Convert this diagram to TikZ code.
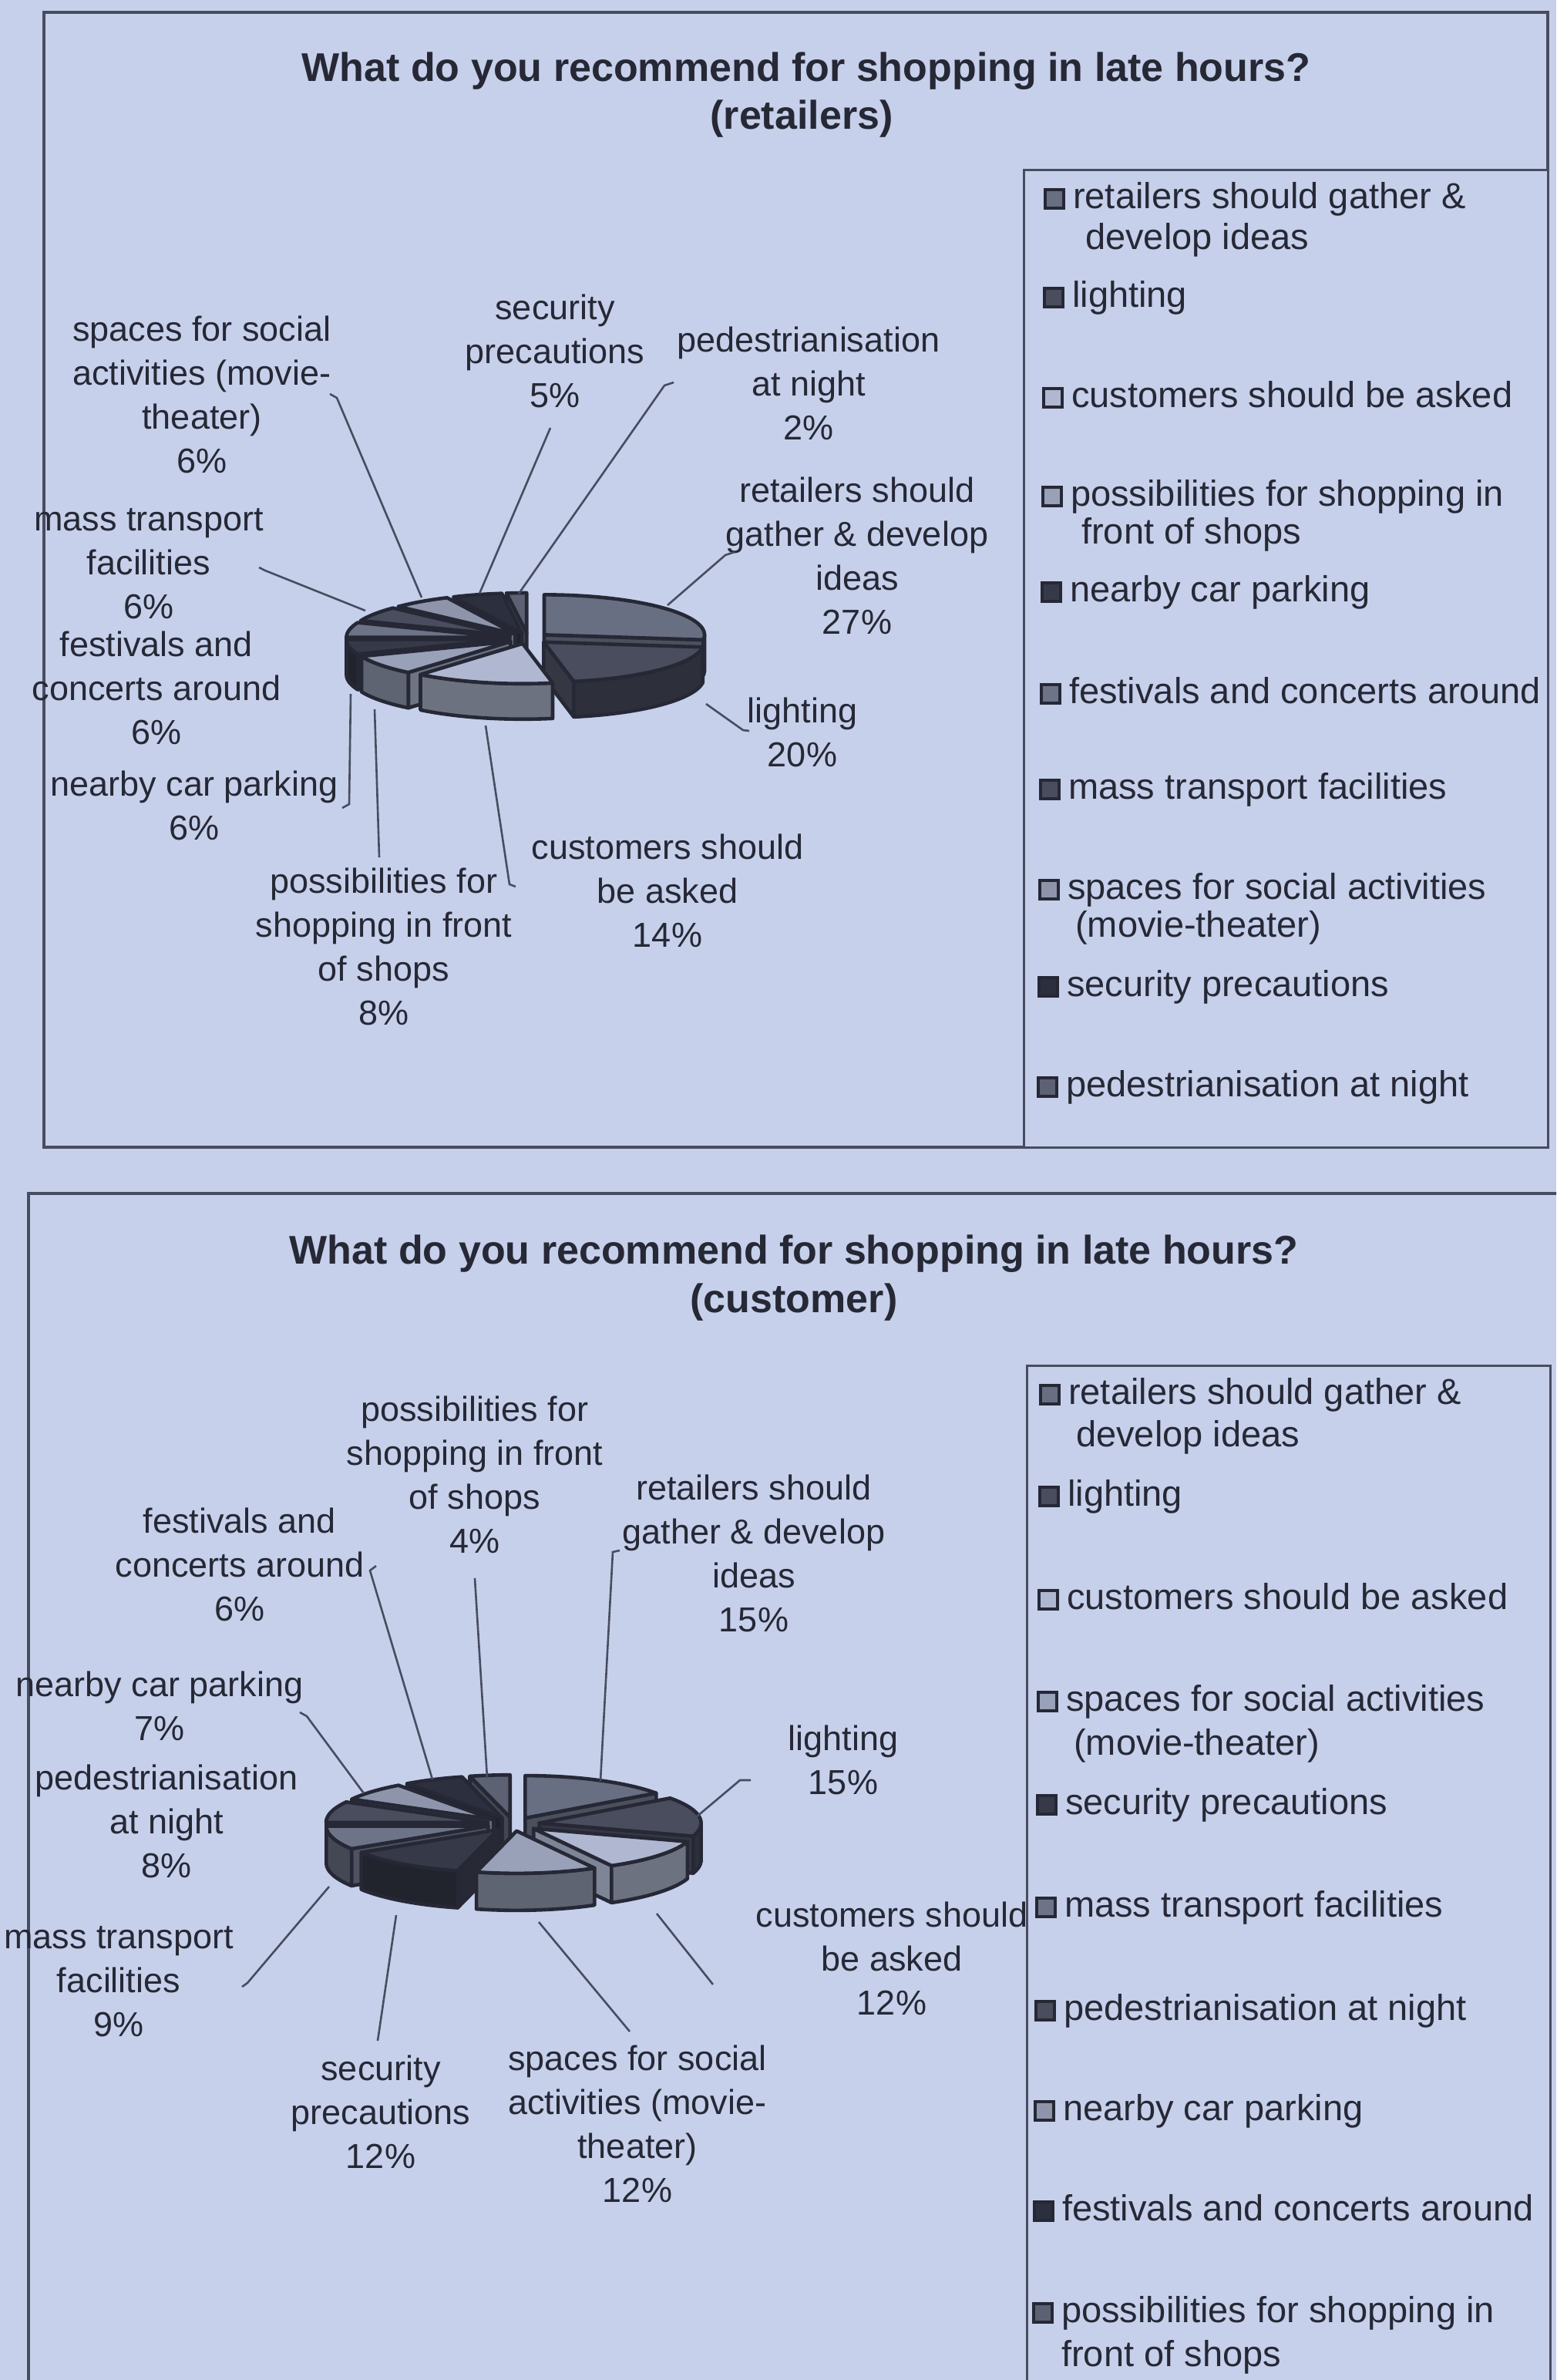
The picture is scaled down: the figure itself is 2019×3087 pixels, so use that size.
\documentclass[tikz,border=0pt]{standalone}
\usepackage{fontspec}
\setmainfont{Liberation Sans}
\definecolor{paper}{RGB}{198,208,234}
\definecolor{ink}{RGB}{38,40,54}
\definecolor{frame}{RGB}{72,76,96}
\colorlet{pc1}{ink!58!paper}
\colorlet{pc2}{ink!78!paper}
\colorlet{pc3}{ink!14!paper}
\colorlet{pc4}{ink!28!paper}
\colorlet{pc5}{ink!90!paper}
\colorlet{pc6}{ink!55!paper}
\colorlet{pc7}{ink!78!paper}
\colorlet{pc8}{ink!35!paper}
\colorlet{pc9}{ink!96!paper}
\colorlet{pc10}{ink!66!paper}
\tikzset{
  pieline/.style={draw=ink, line width=4.6pt, line join=round},
  lbl/.style={font=\fontsize{45}{57}\selectfont, text=ink, align=center, inner sep=0pt},
  lgd/.style={font=\fontsize{47}{54}\selectfont, text=ink, anchor=base west, inner sep=0pt},
  ttl/.style={font=\bfseries\fontsize{52}{61}\selectfont, text=ink, inner sep=0pt},
  leader/.style={draw=frame, line width=2.6pt},
  panel/.style={draw=frame, line width=4.5pt},
  lbox/.style={draw=frame, line width=3pt, fill=paper},
  mk/.style={draw=ink, line width=3.5pt, minimum size=24pt, inner sep=0pt},
}
\newcommand\pieslice[3]{%
  \pgfmathsetmacro\psm{(#1+#2)/2}%
  \pgfmathsetmacro\psx{\pcx+\pe*cos(\psm)}%
  \pgfmathsetmacro\psy{\pcy-\pe*\pr/\pR*sin(\psm)}%
  \pgfmathtruncatemacro\psva{cos(#1)>0.001 ? 1 : 0}%
  \pgfmathtruncatemacro\psvb{cos(#2)<-0.001 ? 1 : 0}%
  \pgfmathsetmacro\pslo{max(#1,-180)}%
  \pgfmathsetmacro\pshi{min(#2,0)}%
  \pgfmathtruncatemacro\psvw{\pshi>\pslo ? 1 : 0}%
  \ifnum\psva=1
    \filldraw[pieline, fill=#3!72!black] ({\psx},{\psy}) -- ({\psx+\pR*cos(#1)},{\psy-\pr*sin(#1)}) -- ({\psx+\pR*cos(#1)},{\psy-\pr*sin(#1)+\ph}) -- ({\psx},{\psy+\ph}) -- cycle;
  \fi
  \ifnum\psvb=1
    \filldraw[pieline, fill=#3!72!black] ({\psx},{\psy}) -- ({\psx+\pR*cos(#2)},{\psy-\pr*sin(#2)}) -- ({\psx+\pR*cos(#2)},{\psy-\pr*sin(#2)+\ph}) -- ({\psx},{\psy+\ph}) -- cycle;
  \fi
  \ifnum\psvw=1
    \filldraw[pieline, fill=#3!62!black] plot[domain=\pslo:\pshi, samples=40] ({\psx+\pR*cos(\x)},{\psy-\pr*sin(\x)}) -- plot[domain=\pshi:\pslo, samples=40] ({\psx+\pR*cos(\x)},{\psy-\pr*sin(\x)+\ph}) -- cycle;
  \fi
  \filldraw[pieline, fill=#3] ({\psx},{\psy}) -- plot[domain=#1:#2, samples=40] ({\psx+\pR*cos(\x)},{\psy-\pr*sin(\x)}) -- cycle;
}
\begin{document}
\begin{tikzpicture}[x=1pt,y=-1pt]
\useasboundingbox (0,0) rectangle (2019,3087);
\fill[paper] (0,0) rectangle (2019,3087);
\clip (0,0) rectangle (2019,3087);

% ================= TOP PANEL =================
\draw[panel] (57,16) rectangle (2008,1488);
\node[ttl] (tt1) at (1046,92) {What do you recommend for shopping in late hours?};
\node[ttl] (tt2) at (1040,154) {(retailers)};

% pie (retailers)
\def\pcx{685}\def\pcy{828}\def\pR{208}\def\pr{52}\def\ph{46}\def\pe{28}
\pieslice{-270}{-262.8}{pc10}
\pieslice{-262.8}{-244.8}{pc9}
\pieslice{-244.8}{-223.2}{pc8}
\pieslice{-223.2}{-201.6}{pc7}
\pieslice{-7.2}{90}{pc1}
\pieslice{-201.6}{-180}{pc6}
\pieslice{-180}{-158.4}{pc5}
\pieslice{-158.4}{-129.6}{pc4}
\pieslice{-79.2}{-7.2}{pc2}
\pieslice{-129.6}{-79.2}{pc3}

% labels
\node[lbl] (ta) at (262,512) {spaces for social\\activities (movie-\\theater)\\6\%};
\node[lbl] (tb) at (720,455) {security\\precautions\\5\%};
\node[lbl] (tc) at (1049,497) {pedestrianisation\\at night\\2\%};
\node[lbl] (td) at (1112,721) {retailers should\\gather \& develop\\ideas\\27\%};
\node[lbl] (te) at (1041,950) {lighting\\20\%};
\node[lbl] (tf) at (866,1155) {customers should\\be asked\\14\%};
\node[lbl] (tg) at (498,1228) {possibilities for\\shopping in front\\of shops\\8\%};
\node[lbl] (th) at (252,1045) {nearby car parking\\6\%};
\node[lbl] (ti) at (203,892) {festivals and\\concerts around\\6\%};
\node[lbl] (tj) at (193,731) {mass transport\\facilities\\6\%};

% leader lines
\coordinate (a0) at (428,511); \coordinate (a1) at (437,516); \coordinate (a2) at (547,775);
\draw[leader] (a0) -- (a1) -- (a2);
\coordinate (b1) at (714,555); \coordinate (b2) at (622,770);
\draw[leader] (b1) -- (b2);
\coordinate (c0) at (874,496); \coordinate (c1) at (862,500); \coordinate (c2) at (673,770);
\draw[leader] (c0) -- (c1) -- (c2);
\coordinate (d0) at (953,716); \coordinate (d1) at (941,720); \coordinate (d2) at (866,785);
\draw[leader] (d0) -- (d1) -- (d2);
\coordinate (e0) at (972,948); \coordinate (e1) at (964,947); \coordinate (e2) at (916,913);
\draw[leader] (e0) -- (e1) -- (e2);
\coordinate (f0) at (669,1150); \coordinate (f1) at (661,1147); \coordinate (f2) at (630,941);
\draw[leader] (f0) -- (f1) -- (f2);
\coordinate (g1) at (492,1112); \coordinate (g2) at (486,920);
\draw[leader] (g1) -- (g2);
\coordinate (h0) at (444,1048); \coordinate (h1) at (453,1043); \coordinate (h2) at (455,900);
\draw[leader] (h0) -- (h1) -- (h2);
\coordinate (j0) at (336,736); \coordinate (j1) at (344,740); \coordinate (j2) at (474,792);
\draw[leader] (j0) -- (j1) -- (j2);

% legend
\draw[lbox] (1328,220) rectangle (2008,1488);
\node[mk, fill=pc1] (lm1) at (1368,258) {};
\node[lgd] (lt1) at (1392,270) {retailers should gather \&};
\node[lgd] (lt1b) at (1408,323) {develop ideas};
\node[mk, fill=pc2] (lm2) at (1367,386) {};
\node[lgd] (lt2) at (1391,398) {lighting};
\node[mk, fill=pc3] (lm3) at (1366,516) {};
\node[lgd] (lt3) at (1390,528) {customers should be asked};
\node[mk, fill=pc4] (lm4) at (1365,644) {};
\node[lgd] (lt4) at (1389,656) {possibilities for shopping in};
\node[lgd] (lt4b) at (1403,705) {front of shops};
\node[mk, fill=pc5] (lm5) at (1364,768) {};
\node[lgd] (lt5) at (1388,780) {nearby car parking};
\node[mk, fill=pc6] (lm6) at (1363,900) {};
\node[lgd] (lt6) at (1387,912) {festivals and concerts around};
\node[mk, fill=pc7] (lm7) at (1362,1024) {};
\node[lgd] (lt7) at (1386,1036) {mass transport facilities};
\node[mk, fill=pc8] (lm8) at (1361,1154) {};
\node[lgd] (lt8) at (1385,1166) {spaces for social activities};
\node[lgd] (lt8b) at (1395,1215) {(movie-theater)};
\node[mk, fill=pc9] (lm9) at (1360,1280) {};
\node[lgd] (lt9) at (1384,1292) {security precautions};
\node[mk, fill=pc10] (lm10) at (1359,1410) {};
\node[lgd] (lt10) at (1383,1422) {pedestrianisation at night};

% ================= BOTTOM PANEL =================
\draw[panel] (37,1548) rectangle (2060,3140);
\node[ttl] (bt1) at (1030,1626) {What do you recommend for shopping in late hours?};
\node[ttl] (bt2) at (1030,1689) {(customer)};

% pie (customer)
\def\pcx{666}\def\pcy{2366}\def\pR{210}\def\pr{55}\def\ph{48}\def\pe{34}
\pieslice{-270}{-255.6}{pc10}
\pieslice{-255.6}{-234}{pc9}
\pieslice{36}{90}{pc1}
\pieslice{-234}{-208.8}{pc8}
\pieslice{-208.8}{-180}{pc7}
\pieslice{-18}{36}{pc2}
\pieslice{-180}{-147.6}{pc6}
\pieslice{-61.2}{-18}{pc3}
\pieslice{-147.6}{-104.4}{pc5}
\pieslice{-104.4}{-61.2}{pc4}

% labels
\node[lbl] (ba) at (616,1913) {possibilities for\\shopping in front\\of shops\\4\%};
\node[lbl] (bb) at (311,2029) {festivals and\\concerts around\\6\%};
\node[lbl] (bc) at (978,2015) {retailers should\\gather \& develop\\ideas\\15\%};
\node[lbl] (bd) at (207,2213) {nearby car parking\\7\%};
\node[lbl] (be) at (216,2362) {pedestrianisation\\at night\\8\%};
\node[lbl] (bf) at (154,2570) {mass transport\\facilities\\9\%};
\node[lbl] (bg) at (1094,2283) {lighting\\15\%};
\node[lbl] (bh) at (1157,2540) {customers should\\be asked\\12\%};
\node[lbl] (bi) at (494,2739) {security\\precautions\\12\%};
\node[lbl] (bj) at (827,2755) {spaces for social\\activities (movie-\\theater)\\12\%};

% leader lines
\coordinate (k1) at (616,2047); \coordinate (k2) at (632,2306);
\draw[leader] (k1) -- (k2);
\coordinate (l0) at (488,2031); \coordinate (l1) at (480,2037); \coordinate (l2) at (561,2308);
\draw[leader] (l0) -- (l1) -- (l2);
\coordinate (m0) at (804,2011); \coordinate (m1) at (795,2013); \coordinate (m2) at (779,2310);
\draw[leader] (m0) -- (m1) -- (m2);
\coordinate (n0) at (389,2221); \coordinate (n1) at (398,2226); \coordinate (n2) at (472,2326);
\draw[leader] (n0) -- (n1) -- (n2);
\coordinate (o0) at (314,2577); \coordinate (o1) at (321,2572); \coordinate (o2) at (427,2447);
\draw[leader] (o0) -- (o1) -- (o2);
\coordinate (s0) at (974,2309); \coordinate (s1) at (960,2309); \coordinate (s2) at (897,2362);
\draw[leader] (s0) -- (s1) -- (s2);
\coordinate (u1) at (925,2574); \coordinate (u2) at (852,2482);
\draw[leader] (u1) -- (u2);
\coordinate (v1) at (490,2647); \coordinate (v2) at (514,2484);
\draw[leader] (v1) -- (v2);
\coordinate (w1) at (817,2635); \coordinate (w2) at (699,2493);
\draw[leader] (w1) -- (w2);

% legend
\draw[lbox] (1332,1771) rectangle (2011,3140);
\node[mk, fill=pc1] (km1) at (1362,1809) {};
\node[lgd] (kt1) at (1386,1821) {retailers should gather \&};
\node[lgd] (kt1b) at (1396,1876) {develop ideas};
\node[mk, fill=pc2] (km2) at (1361,1941) {};
\node[lgd] (kt2) at (1385,1953) {lighting};
\node[mk, fill=pc3] (km3) at (1360,2075) {};
\node[lgd] (kt3) at (1384,2087) {customers should be asked};
\node[mk, fill=pc4] (km4) at (1359,2207) {};
\node[lgd] (kt4) at (1383,2219) {spaces for social activities};
\node[lgd] (kt4b) at (1393,2276) {(movie-theater)};
\node[mk, fill=pc5] (km5) at (1358,2341) {};
\node[lgd] (kt5) at (1382,2353) {security precautions};
\node[mk, fill=pc6] (km6) at (1357,2474) {};
\node[lgd] (kt6) at (1381,2486) {mass transport facilities};
\node[mk, fill=pc7] (km7) at (1356,2608) {};
\node[lgd] (kt7) at (1380,2620) {pedestrianisation at night};
\node[mk, fill=pc8] (km8) at (1355,2738) {};
\node[lgd] (kt8) at (1379,2750) {nearby car parking};
\node[mk, fill=pc9] (km9) at (1354,2868) {};
\node[lgd] (kt9) at (1378,2880) {festivals and concerts around};
\node[mk, fill=pc10] (km10) at (1353,3000) {};
\node[lgd] (kt10) at (1377,3012) {possibilities for shopping in};
\node[lgd] (kt10b) at (1377,3069) {front of shops};
\end{tikzpicture}
\end{document}
